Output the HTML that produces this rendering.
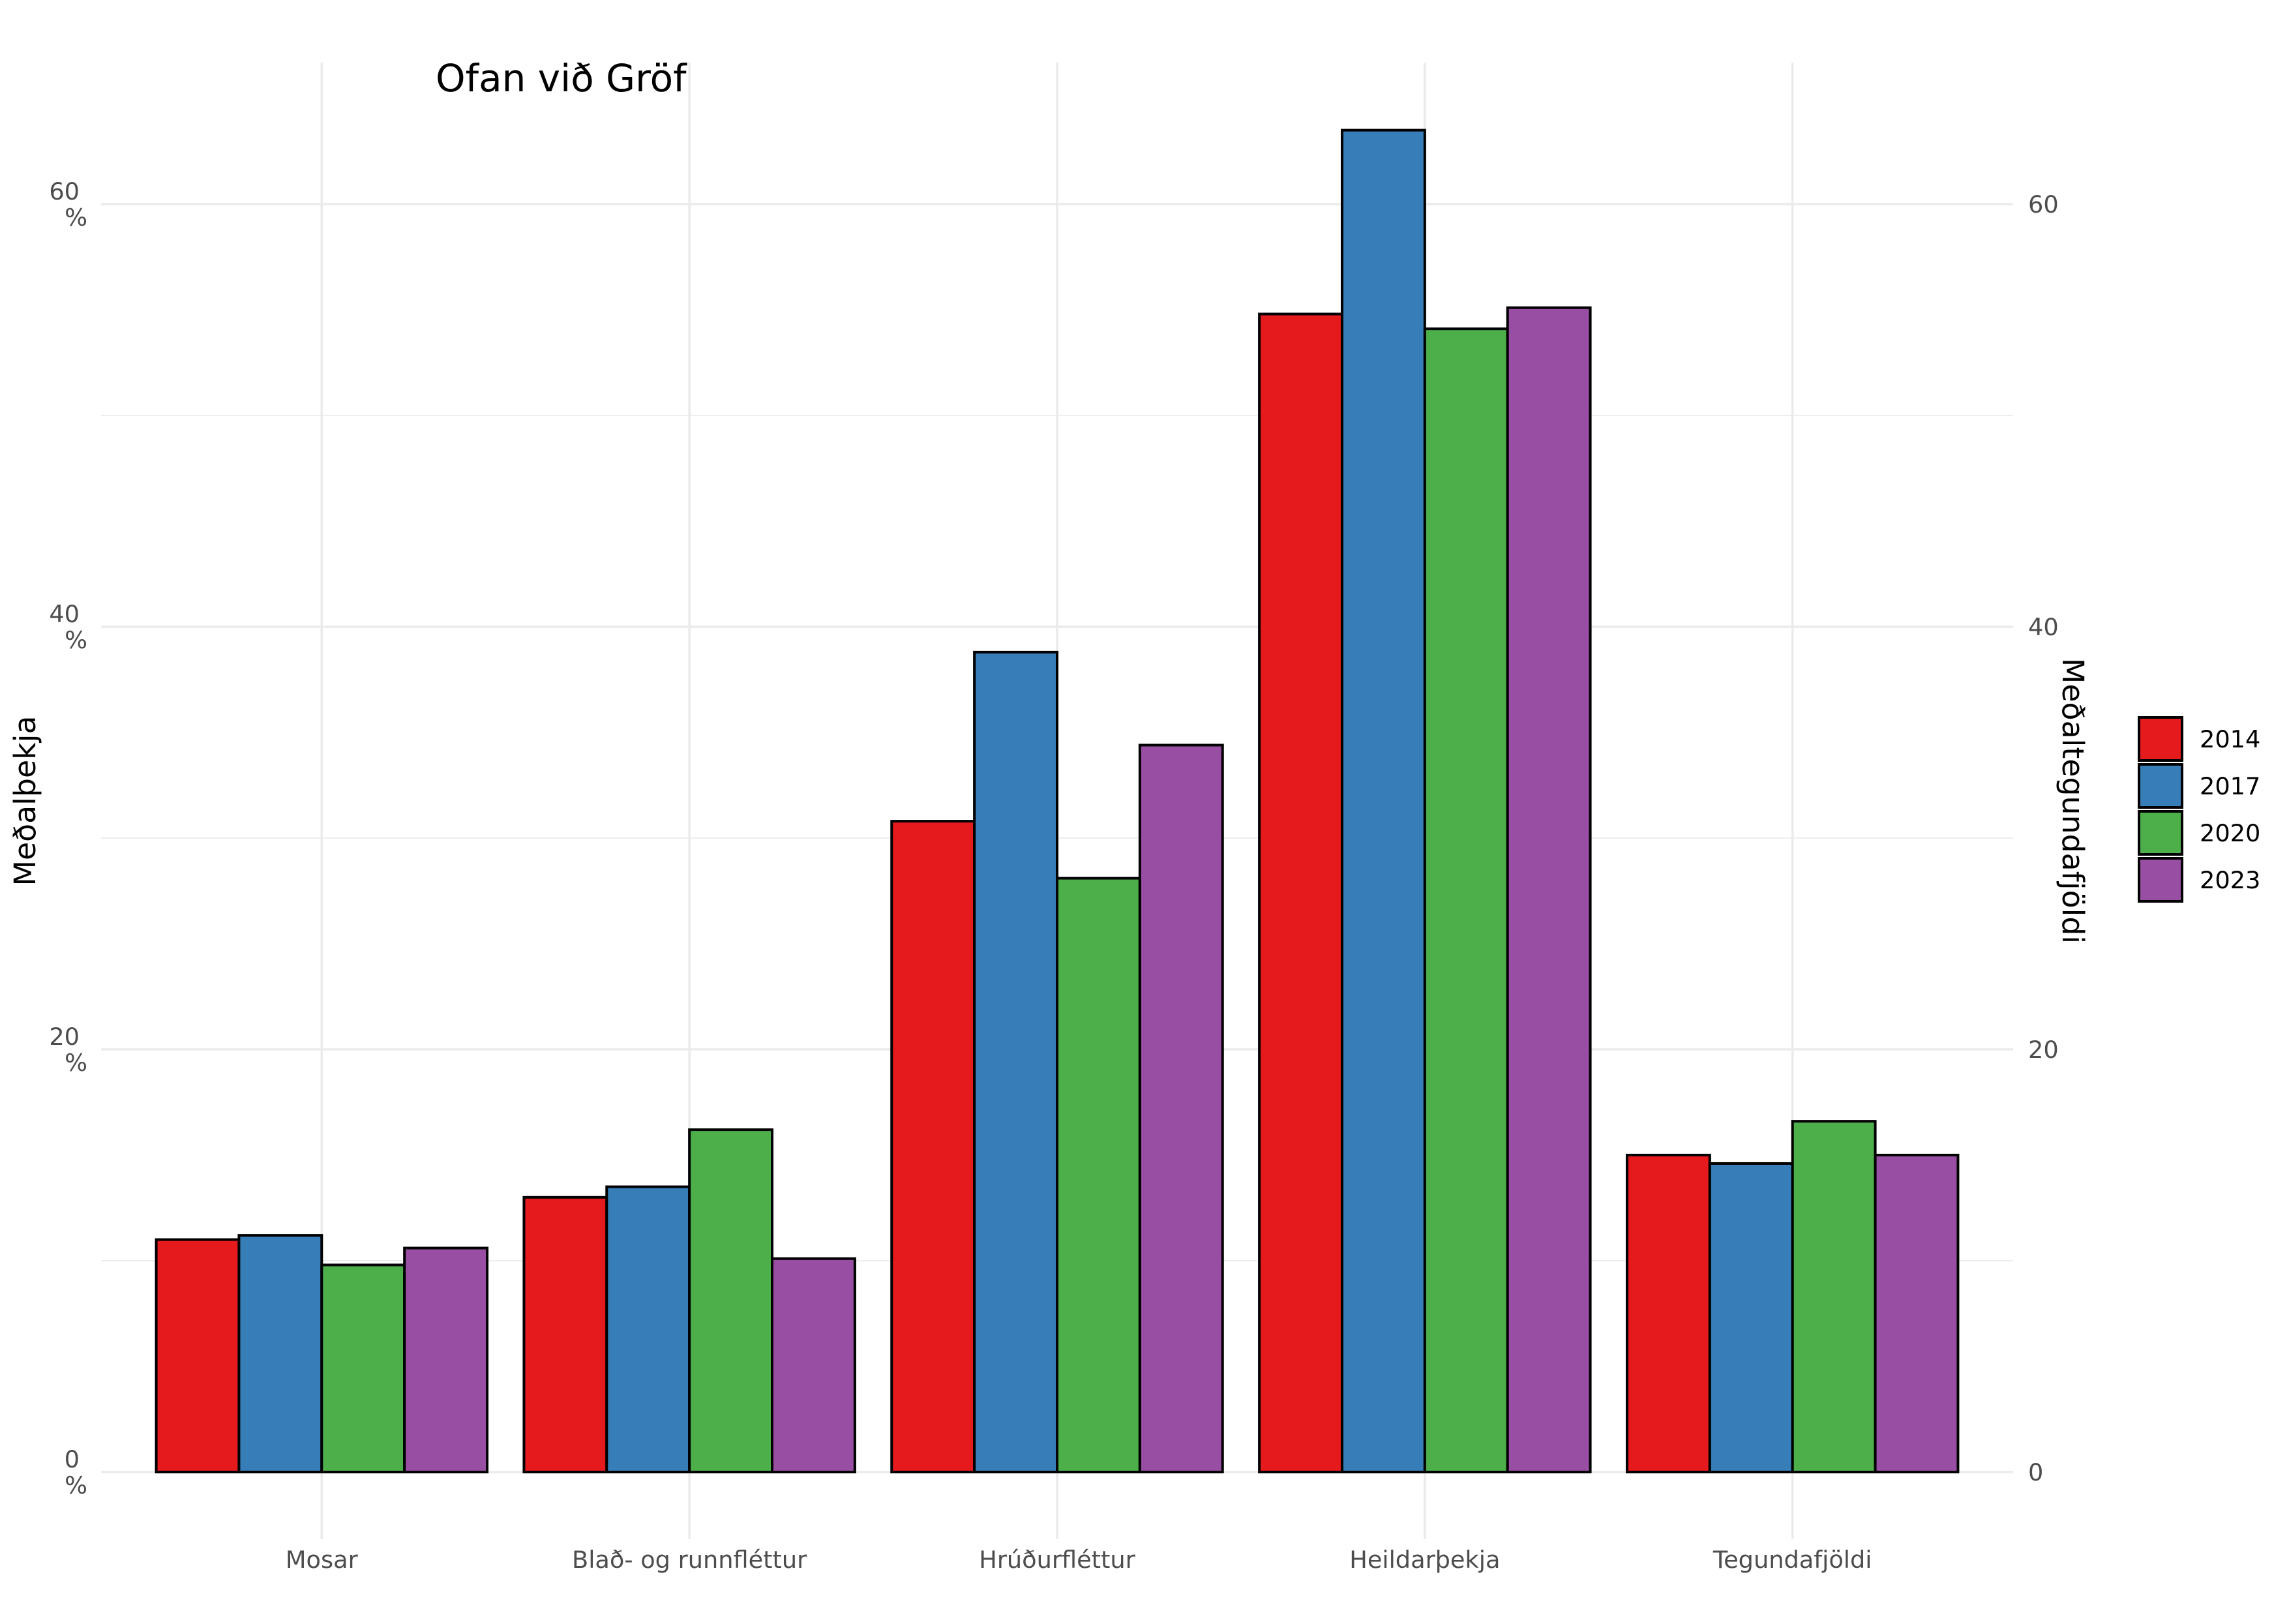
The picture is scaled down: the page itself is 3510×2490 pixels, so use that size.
<!DOCTYPE html>
<html><head><meta charset="utf-8"><style>
html,body{margin:0;padding:0;background:#fff;}
svg{display:block;font-family:"DejaVu Sans","Liberation Sans",sans-serif;}
</style></head><body>
<svg id="chart" width="3510" height="2490" viewBox="0 0 3510 2490" xmlns="http://www.w3.org/2000/svg">
<g id="grid"></g>
<g id="bars"></g>
<g id="axes"></g>
<text x="668" y="140" font-size="58" fill="#000">Ofan við Gröf</text>
<text transform="translate(54,1228) rotate(-90)" text-anchor="middle" font-size="45.8" fill="#000">Meðalþekja</text>
<text transform="translate(3163,1228) rotate(90)" text-anchor="middle" font-size="45.8" fill="#000">Meðaltegundafjöldi</text>
<g id="legend"></g>
</svg>
<script>
const categories = ["Mosar","Blað- og runnfléttur","Hrúðurfléttur","Heildarþekja","Tegundafjöldi"];
const years = ["2014","2017","2020","2023"];
const v2014 = [11.0,13.0,30.8,54.8,15.0];
const v2017 = [11.2,13.5,38.8,63.5,14.6];
const v2020 = [9.8,16.2,28.1,54.1,16.6];
const v2023 = [10.6,10.1,34.4,55.1,15.0];
const majorTicks = [0,20,40,60];
const minorTicks = [10,30,50];
const colors = ["#E41A1C","#377EB8","#4DAF4A","#984EA3"];

const NS="http://www.w3.org/2000/svg";
const series=[v2014,v2017,v2020,v2023];
const plotL=155, plotR=3087, plotT=96, plotB=2360;
const y0px=2257, perUnit=(2257-313)/60;
function yScale(v){return y0px - v*perUnit;}
const step=(plotR-plotL)/(categories.length-1+1.2);
function xScale(i){return plotL + step*(0.6+i);}
function mk(tag,attrs,parent){const e=document.createElementNS(NS,tag);for(const k in attrs)e.setAttribute(k,attrs[k]);parent.appendChild(e);return e;}
const grid=document.getElementById('grid'), bars=document.getElementById('bars'), axes=document.getElementById('axes'), legend=document.getElementById('legend');

minorTicks.forEach(t=>{
  const l=mk('line',{x1:plotL,x2:plotR,y1:yScale(t),y2:yScale(t),stroke:'#ebebeb','stroke-width':1.8},grid);
  
  
});
majorTicks.forEach(t=>{
  const l=mk('line',{x1:plotL,x2:plotR,y1:yScale(t),y2:yScale(t),stroke:'#ebebeb','stroke-width':3.6},grid);
  
  
  const a=mk('text',{x:122,y:yScale(t)-7,'text-anchor':'end','font-size':36.7,fill:'#4d4d4d'},axes);
  a.textContent=String(t);
  
  
  const p=mk('text',{x:134,y:yScale(t)+33,'text-anchor':'end','font-size':36.7,fill:'#4d4d4d'},axes);
  p.textContent='%';
  
  
  const r=mk('text',{x:3110,y:yScale(t)+13,'font-size':36.7,fill:'#4d4d4d'},axes);
  r.textContent=String(t);
  
  
});
categories.forEach((c,i)=>{
  const x=xScale(i);
  const l=mk('line',{x1:x,x2:x,y1:plotT,y2:plotB,stroke:'#ebebeb','stroke-width':3.6},grid);
  
  
  const t=mk('text',{x:x,y:2418,'text-anchor':'middle','font-size':36.7,fill:'#4d4d4d'},axes);
  t.textContent=c;
  t.setAttribute('y',2417-13);
  
  
});
const groupW=step*0.9, barW=groupW/years.length;
categories.forEach((c,i)=>{
  series.forEach((s,j)=>{
    const x=xScale(i)-groupW/2+j*barW;
    const y=yScale(s[i]);
    const r=mk('rect',{x:x,y:y,width:barW,height:yScale(0)-y,fill:colors[j],stroke:'#000','stroke-width':4},bars);
    
    
  });
});
years.forEach((yr,j)=>{
  const top=1098+j*72;
  const r=mk('rect',{x:3280,y:top+2,width:66,height:66,fill:colors[j],stroke:'#000','stroke-width':4},legend);
  
  
  const t=mk('text',{x:3373,y:top+48,'font-size':36.7,fill:'#000'},legend);
  t.textContent=yr;
  
  
});
</script>
</body></html>
